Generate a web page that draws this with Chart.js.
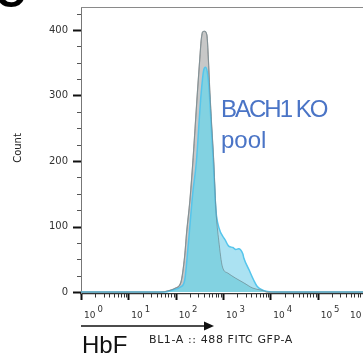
<!DOCTYPE html>
<html>
<head>
<meta charset="utf-8">
<script src="https://cdn.jsdelivr.net/npm/chart.js@4/dist/chart.umd.min.js"></script>
<style>
html,body{margin:0;padding:0;overflow:hidden;background:#fff;}
#wrap{width:400px;height:360px;position:relative;}
</style>
</head>
<body>
<div id="wrap"><canvas id="c" width="400" height="360"></canvas></div>
<script>
// ---- data ----
// control (grey) histogram: fluorescence value (BL1-A) and count
const greyX = [1, 48, 71, 100, 129, 155, 170, 200, 234, 257, 288, 324, 347, 372, 407, 457, 490, 525, 575, 631, 708, 813, 977, 1259, 1862, 2754, 4266, 6310, 9120, 1000000];
const greyCounts = [0, 0, 2, 6, 15, 55, 90, 140, 205, 250, 305, 357, 385, 397, 398, 392, 357, 308, 255, 205, 125, 79, 38, 29, 21, 14, 6, 3, 0, 0];
// BACH1 KO pool (blue) histogram
const blueX = [1, 55, 87, 129, 155, 186, 229, 275, 316, 347, 389, 427, 479, 513, 562, 617, 708, 813, 1122, 1318, 1622, 1862, 2138, 2630, 2754, 3548, 4467, 5370, 6918, 8710, 12882, 1000000];
const blueCounts = [0, 0, 3, 8, 18, 75, 150, 200, 265, 305, 338, 343, 330, 305, 255, 205, 125, 99, 79, 70, 68, 65, 66, 58, 52, 34, 18, 8, 3, 1, 0, 0];
// axis ticks
const xDecadeExps = [0, 1, 2, 3, 4, 5, 6];
const xMinorSteps = [2, 3, 4, 5, 6, 7, 8, 9];
const yMajorTicks = [0, 100, 200, 300, 400];
const yMinorStep = 25;
const yTop = 435;
// texts
const yTitle = 'Count';
const xTitleBig = 'HbF';
const xTitleSmall = 'BL1-A :: 488 FITC GFP-A';
const annotLines = ['BACH1 KO', 'pool'];
const panelLetter = 'C';

const toPts = (xs, ys) => xs.map((x, i) => ({x: x, y: ys[i]}));

function isDecade(v) {
  const l = Math.log10(v);
  return Math.abs(l - Math.round(l)) < 1e-9;
}

const xTickValues = [];
xDecadeExps.forEach(e => {
  xTickValues.push(Math.pow(10, e));
  if (e < xDecadeExps[xDecadeExps.length - 1]) xMinorSteps.forEach(m => xTickValues.push(m * Math.pow(10, e)));
});

const tickPlugin = {
  id: 'ticksAndText',
  afterDraw(chart) {
    const ctx = chart.ctx;
    const xs = chart.scales.x, ys = chart.scales.y;
    const a = chart.chartArea;
    ctx.save();
    // top frame line
    ctx.strokeStyle = '#8a8a8a';
    ctx.lineWidth = 1;
    ctx.beginPath();
    ctx.moveTo(a.left, a.top + 0.5);
    ctx.lineTo(chart.width, a.top + 0.5);
    ctx.stroke();
    // x ticks
    xs.ticks.forEach(t => {
      const px = Math.round(xs.getPixelForValue(t.value)) + 0.5;
      const major = isDecade(t.value);
      ctx.strokeStyle = major ? '#111' : '#333';
      ctx.lineWidth = major ? 2 : 1;
      ctx.beginPath();
      ctx.moveTo(px, a.bottom);
      ctx.lineTo(px, a.bottom + (major ? 6 : 3.5));
      ctx.stroke();
    });
    // x tick labels: 10 with raised exponent
    ctx.fillStyle = '#333';
    ctx.textAlign = 'left';
    ctx.textBaseline = 'alphabetic';
    xDecadeExps.forEach(e => {
      const px = xs.getPixelForValue(Math.pow(10, e));
      const x0 = Math.min(px + 3, a.right - 15);
      ctx.font = '9px "DejaVu Sans"';
      ctx.fillText('10', x0, 318);
      const w = ctx.measureText('10').width;
      ctx.font = '8.5px "DejaVu Sans"';
      ctx.fillText(String(e), x0 + w + 2, 312);
    });
    // y ticks
    ys.ticks.forEach(t => {
      const py = Math.round(ys.getPixelForValue(t.value)) + 0.5;
      const major = yMajorTicks.includes(t.value);
      ctx.strokeStyle = major ? '#111' : '#555';
      ctx.lineWidth = major ? 2 : 1;
      ctx.beginPath();
      ctx.moveTo(a.left - (major ? 8 : 4), py);
      ctx.lineTo(a.left, py);
      ctx.stroke();
    });
    // y title
    ctx.fillStyle = '#222';
    ctx.font = '10px "DejaVu Sans"';
    ctx.textAlign = 'center';
    ctx.textBaseline = 'middle';
    ctx.save();
    ctx.translate(18, 148);
    ctx.rotate(-Math.PI / 2);
    ctx.fillText(yTitle, 0, 0);
    ctx.restore();
    // arrow
    ctx.strokeStyle = '#111';
    ctx.fillStyle = '#111';
    ctx.lineWidth = 1.5;
    ctx.beginPath();
    ctx.moveTo(a.left, 326);
    ctx.lineTo(206, 326);
    ctx.stroke();
    ctx.beginPath();
    ctx.moveTo(214, 326);
    ctx.lineTo(204, 321.5);
    ctx.lineTo(204, 330.5);
    ctx.closePath();
    ctx.fill();
    // x titles
    ctx.textAlign = 'left';
    ctx.textBaseline = 'alphabetic';
    ctx.font = '24px "Liberation Sans"';
    ctx.fillText(xTitleBig, 82, 353);
    ctx.font = '11px "DejaVu Sans"';
    ctx.fillStyle = '#222';
    try { ctx.letterSpacing = '0.6px'; } catch (e) {}
    ctx.fillText(xTitleSmall, 149, 343);
    // annotation
    ctx.fillStyle = '#4a74c6';
    ctx.font = '24px "Liberation Sans"';
    try { ctx.letterSpacing = '-2px'; } catch (e) {}
    ctx.fillText(annotLines[0], 221, 117);
    try { ctx.letterSpacing = '0px'; } catch (e) {}
    ctx.fillText(annotLines[1], 221, 148);
    // panel letter
    ctx.fillStyle = '#000';
    ctx.font = 'bold 42px "Liberation Sans"';
    ctx.fillText(panelLetter, -5, 7);
    ctx.restore();
  }
};

new Chart(document.getElementById('c'), {
  type: 'line',
  data: {
    datasets: [
      {
        label: 'control',
        data: toPts(greyX, greyCounts),
        fill: 'origin',
        backgroundColor: '#c8c8c8',
        borderColor: '#9c9c9c',
        borderWidth: 1.2,
        order: 4
      },
      {
        label: 'BACH1 KO base',
        data: toPts(blueX, blueCounts),
        fill: 'origin',
        backgroundColor: '#82d2e1',
        borderWidth: 0,
        borderColor: 'rgba(0,0,0,0)',
        order: 3
      },
      {
        label: 'BACH1 KO pool',
        data: toPts(blueX, blueCounts),
        fill: {target: 0, above: '#abe2f2', below: 'rgba(0,0,0,0)'},
        borderColor: '#55c5ec',
        borderWidth: 1.5,
        order: 2
      },
      {
        label: 'control line',
        data: toPts(greyX, greyCounts),
        fill: false,
        borderColor: 'rgba(110,125,130,0.6)',
        borderWidth: 1,
        order: 1
      }
    ]
  },
  options: {
    responsive: false,
    devicePixelRatio: 1,
    animation: false,
    events: [],
    layout: {padding: {top: 7, right: 35, left: 0, bottom: 0}},
    elements: {
      point: {radius: 0},
      line: {tension: 0.3, cubicInterpolationMode: 'monotone'}
    },
    plugins: {legend: {display: false}, tooltip: {enabled: false}},
    scales: {
      x: {
        type: 'logarithmic',
        min: 1,
        max: 1000000,
        afterBuildTicks: s => { s.ticks = xTickValues.map(v => ({value: v, major: isDecade(v)})); },
        afterFit: s => { s.height = 66; s.paddingLeft = 0; s.paddingRight = 0; },
        grid: {display: false, drawTicks: false},
        border: {display: true, color: '#333', width: 1.2},
        ticks: {display: false, autoSkip: false}
      },
      y: {
        min: -3,
        max: yTop,
        afterBuildTicks: s => {
          const t = [];
          for (let v = 0; v <= yTop; v += yMinorStep) t.push({value: v});
          s.ticks = t;
        },
        afterFit: s => { s.width = 81; s.paddingTop = 0; s.paddingBottom = 0; },
        grid: {display: false, drawTicks: false},
        border: {display: true, color: '#777', width: 1},
        ticks: {
          padding: 13,
          color: '#333',
          font: {family: 'DejaVu Sans', size: 10},
          callback: v => yMajorTicks.includes(v) ? String(v) : ''
        }
      }
    }
  },
  plugins: [tickPlugin]
});
</script>
</body>
</html>
